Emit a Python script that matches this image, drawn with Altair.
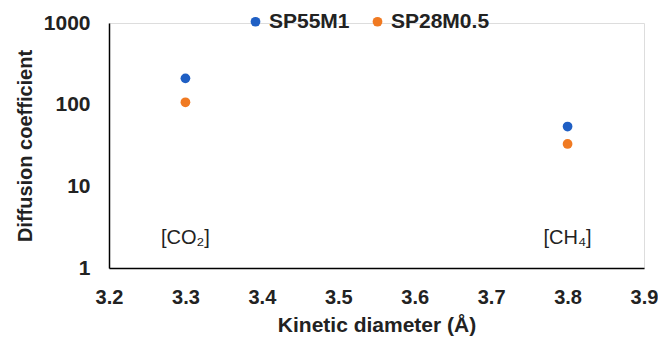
import altair as alt
import pandas as pd

series = ["SP55M1", "SP55M1", "SP28M0.5", "SP28M0.5"]
diam = [3.3, 3.8, 3.3, 3.8]
coef = [210, 54, 107, 33]
gas_labels = ["[CO₂]", "[CH₄]"]
gas_x = [3.3, 3.8]
gas_y = [2.3, 2.3]
x_ticks = [3.2, 3.3, 3.4, 3.5, 3.6, 3.7, 3.8, 3.9]
y_ticks = [1, 10, 100, 1000]
colors = ["#1F5FC4", "#F07A22"]

df = pd.DataFrame({"series": series, "x": diam, "y": coef})
lab = pd.DataFrame({"t": gas_labels, "x": gas_x, "y": gas_y})

FONT = "Liberation Sans"

xs = alt.X("x:Q", scale=alt.Scale(domain=[3.2, 3.9], nice=False, zero=False),
           axis=alt.Axis(values=x_ticks, format=".1f", title="Kinetic diameter (Å)",
                         grid=False, ticks=False, domainColor="black", domainWidth=1.5,
                         labelFlush=False, labelOverlap=False,
                         labelFont=FONT, labelFontSize=20, labelFontWeight="bold",
                         labelColor="#222222", labelPadding=19,
                         titleFont=FONT, titleFontSize=21, titleFontWeight="bold",
                         titleColor="#222222", titlePadding=7))
ys = alt.Y("y:Q", scale=alt.Scale(type="log", domain=[1, 1000], nice=False),
           axis=alt.Axis(values=y_ticks, format="d", title="Diffusion coefficient",
                         grid=False, ticks=False, domainColor="black", domainWidth=1.5,
                         labelFlush=False, labelOverlap=False,
                         labelFont=FONT, labelFontSize=21, labelFontWeight="bold",
                         labelColor="#222222", labelPadding=19,
                         titleFont=FONT, titleFontSize=20, titleFontWeight="bold",
                         titleColor="#222222", titlePadding=8))

points = alt.Chart(df).mark_circle(size=95, opacity=1).encode(
    x=xs, y=ys,
    color=alt.Color("series:N", scale=alt.Scale(domain=["SP55M1", "SP28M0.5"], range=colors),
                    legend=alt.Legend(title=None, orient="none", direction="horizontal",
                                      legendX=136, legendY=-12, symbolType="circle",
                                      symbolSize=95, labelFont=FONT, labelFontSize=21,
                                      labelFontWeight="bold", labelColor="#222222",
                                      labelOffset=3, columnPadding=17, symbolStrokeWidth=0)),
)

texts = alt.Chart(lab).mark_text(font=FONT, fontSize=20, color="#222222").encode(
    x="x:Q", y="y:Q", text="t:N")

chart = alt.layer(points, texts).properties(
    width=535, height=245,
    autosize=alt.AutoSizeParams(type="none"),
    padding={"left": 101, "top": 15, "right": 14, "bottom": 73},
).configure_view(stroke=None).configure(background="white")

chart.save("out.html", embed_options={"renderer": "svg", "actions": False})
